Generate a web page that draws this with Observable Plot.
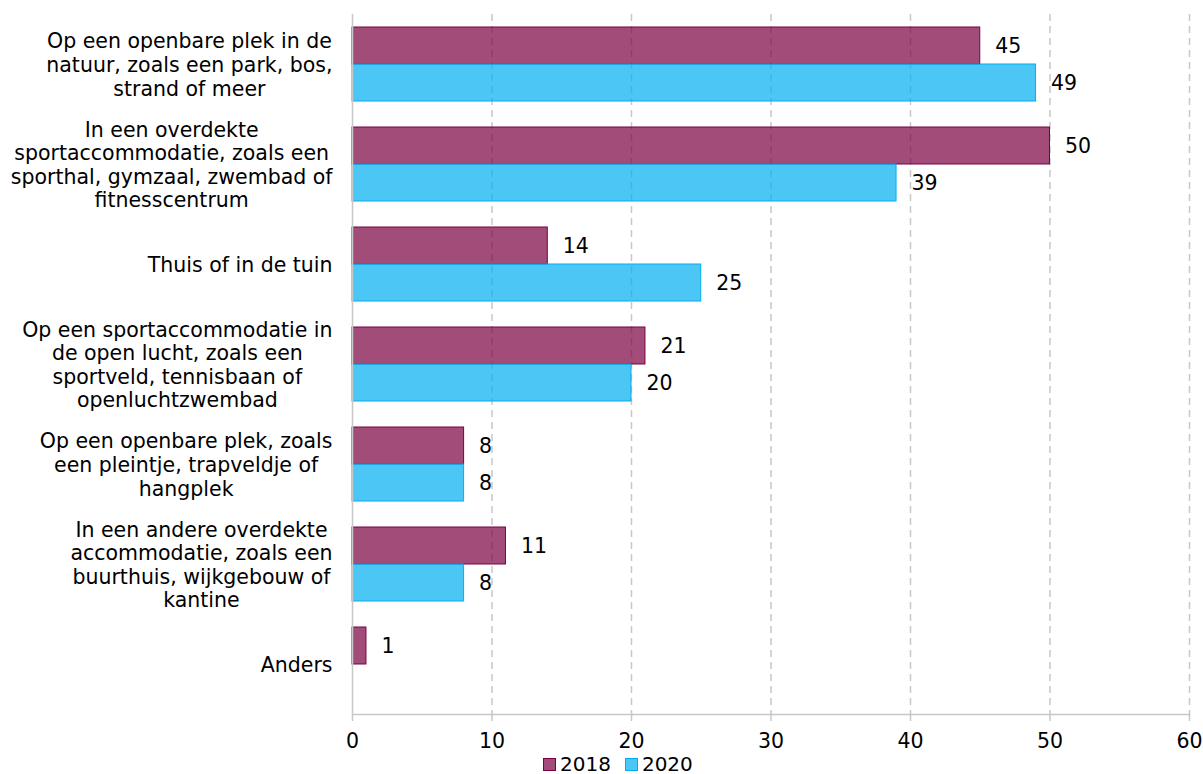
<!DOCTYPE html>
<html><head><meta charset="utf-8">
<script src="https://cdn.jsdelivr.net/npm/d3@7"></script>
<script src="https://cdn.jsdelivr.net/npm/@observablehq/plot@0.6"></script>
<style>
body{margin:0;background:#fff;font-family:"DejaVu Sans";}
#chart{position:relative;width:1203px;height:774px;}
#legend{position:absolute;top:757px;left:543px;display:flex;align-items:center;font-size:20px;line-height:15px;height:15px;color:#000;}
#legend .sw{width:11px;height:11px;border:1px solid;margin-right:4px;}
#legend .item{display:flex;align-items:center;margin-right:14px;}
</style>
</head><body><div id="chart"><div id="legend"></div></div>
<script>
const categories = [
  "Op een openbare plek in de\nnatuur, zoals een park, bos,\nstrand of meer",
  "In een overdekte\nsportaccommodatie, zoals een\nsporthal, gymzaal, zwembad of\nfitnesscentrum",
  "Thuis of in de tuin",
  "Op een sportaccommodatie in\nde open lucht, zoals een\nsportveld, tennisbaan of\nopenluchtzwembad",
  "Op een openbare plek, zoals\neen pleintje, trapveldje of\nhangplek",
  "In een andere overdekte\naccommodatie, zoals een\nbuurthuis, wijkgebouw of\nkantine",
  "Anders"
];
const years = ["2018", "2020"];
const values2018 = [45, 50, 14, 21, 8, 11, 1];
const values2020 = [49, 39, 25, 20, 8, 8, null];
const xTicks = [0, 10, 20, 30, 40, 50, 60];
const gridTicks = [10, 20, 30, 40, 50, 60];
const seriesColors = ["#7a0041", "#00aeef"];

const rows2018 = categories.map((c, i) => ({cat: c, year: "2018", value: values2018[i]})).filter(d => d.value != null);
const rows2020 = categories.map((c, i) => ({cat: c, year: "2020", value: values2020[i]})).filter(d => d.value != null);

const FS = 20.5;
const ctx = document.createElement("canvas").getContext("2d");
ctx.font = FS + 'px "DejaVu Sans"';
const blockWidth = (s) => Math.max(...s.split("\n").map(l => ctx.measureText(l).width));

const labelMarks = categories.map(c => Plot.text([c], {
  y: d => d, text: d => d, frameAnchor: "left", textAnchor: "middle",
  dx: -20 - blockWidth(c) / 2, lineHeight: 1.15, fill: "#000", fontSize: FS
}));

const color = {domain: years, range: seriesColors};

const chart = Plot.plot({
  width: 1203,
  height: 754,
  marginLeft: 352,
  marginRight: 14,
  marginTop: 14,
  marginBottom: 40,
  style: {fontFamily: '"DejaVu Sans"', fontSize: FS + "px", background: "#fff", color: "#000"},
  x: {domain: [0, 60], axis: null, label: null},
  y: {domain: categories, padding: 0, axis: null, label: null},
  color,
  marks: [
    Plot.gridX({ticks: gridTicks, stroke: "#c8c8c8", strokeOpacity: 1, strokeWidth: 1.5, strokeDasharray: "7,5"}),
    Plot.barX(rows2018, {x: "value", y: "cat", fill: "year", fillOpacity: 0.7, stroke: "year", strokeWidth: 1, insetTop: 13, insetBottom: 50}),
    Plot.barX(rows2020, {x: "value", y: "cat", fill: "year", fillOpacity: 0.7, stroke: "year", strokeWidth: 1, insetTop: 50, insetBottom: 13}),
    Plot.ruleX([0], {stroke: "#c8c8c8", strokeWidth: 1.5}),
    Plot.frame({anchor: "bottom", stroke: "#c8c8c8", strokeWidth: 1.5}),
    Plot.axisX({ticks: xTicks, tickSize: 7, tickPadding: 12, stroke: "#c8c8c8", strokeWidth: 1.5, fill: "#000", fontSize: FS, label: null}),
    Plot.text(rows2018, {x: "value", y: "cat", text: d => String(d.value), dy: -18.5, dx: 15, textAnchor: "start", fill: "#000", fontSize: FS}),
    Plot.text(rows2020, {x: "value", y: "cat", text: d => String(d.value), dy: 18.5, dx: 15, textAnchor: "start", fill: "#000", fontSize: FS}),
    ...labelMarks
  ]
});
document.getElementById("chart").prepend(chart);

const legend = document.getElementById("legend");
years.forEach((y, i) => {
  const item = document.createElement("div");
  item.className = "item";
  const sw = document.createElement("div");
  sw.className = "sw";
  sw.style.borderColor = seriesColors[i];
  sw.style.background = d3.color(seriesColors[i]).copy({opacity: 0.7}).formatRgb();
  const t = document.createElement("span");
  t.textContent = y;
  item.append(sw, t);
  legend.append(item);
});
</script></body></html>
